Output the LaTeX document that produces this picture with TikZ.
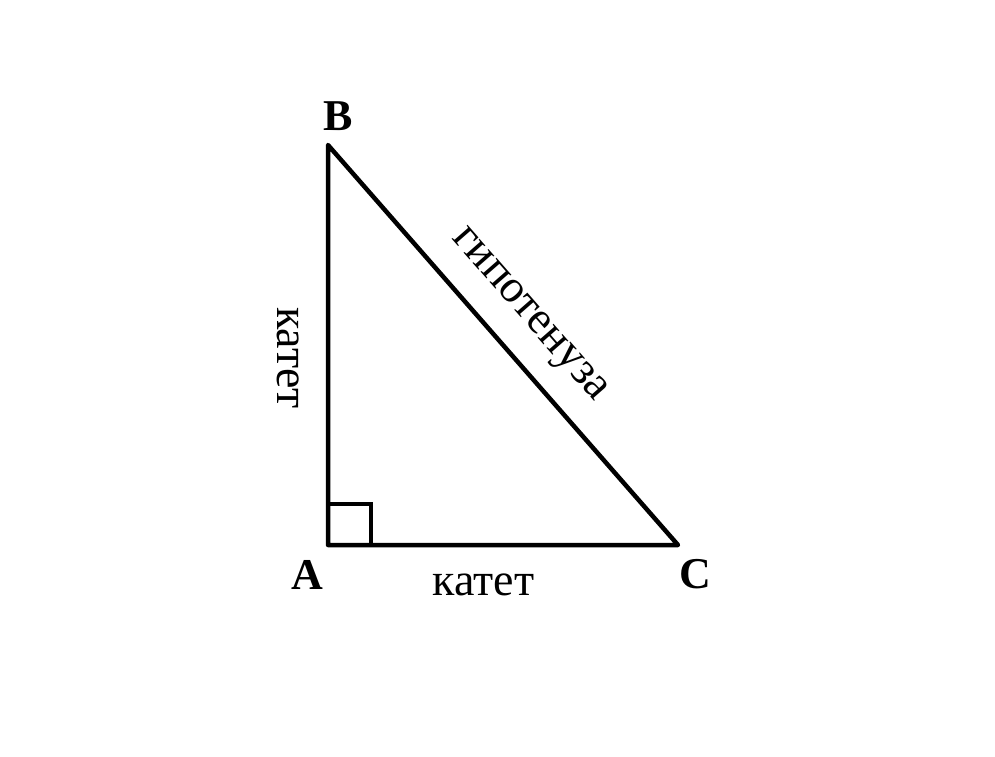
\documentclass[tikz,border=0pt]{standalone}
\usepackage{fontspec}
\setmainfont{Liberation Serif}
\begin{document}
\begin{tikzpicture}[x=1pt,y=-1pt,
  side/.style={line width=4.5pt,line join=round},
  rightmark/.style={line width=4pt,line join=miter},
  vlabel/.style={inner sep=0pt,font=\bfseries\fontsize{44}{50}\selectfont},
  slabel/.style={inner sep=0pt,font=\fontsize{46}{52}\selectfont}]
\useasboundingbox (0,0) rectangle (995,756);
\coordinate (A) at (328,545);
\coordinate (B) at (328,145);
\coordinate (C) at (678,545);
\coordinate (M1) at (328,503.5);
\coordinate (M2) at (371,503.5);
\coordinate (M3) at (371,545);
\draw[rightmark] (M1) -- (M2) -- (M3);
\draw[side] (A) -- (B) -- (C) -- cycle;
\node[vlabel] (lB) at (338.5,116.5) {B};
\node[vlabel] (lA) at (307,574.5) {A};
\node[vlabel] (lC) at (695.5,574.5) {C};
\node[slabel] (kat1) at (483.5,585) {катет};
\node[slabel,rotate=-90] (kat2) at (288.5,358) {катет};
\node[slabel,rotate=-48.81] (hyp) at (527.5,316.5) {гипотенуза};
\end{tikzpicture}
\end{document}
